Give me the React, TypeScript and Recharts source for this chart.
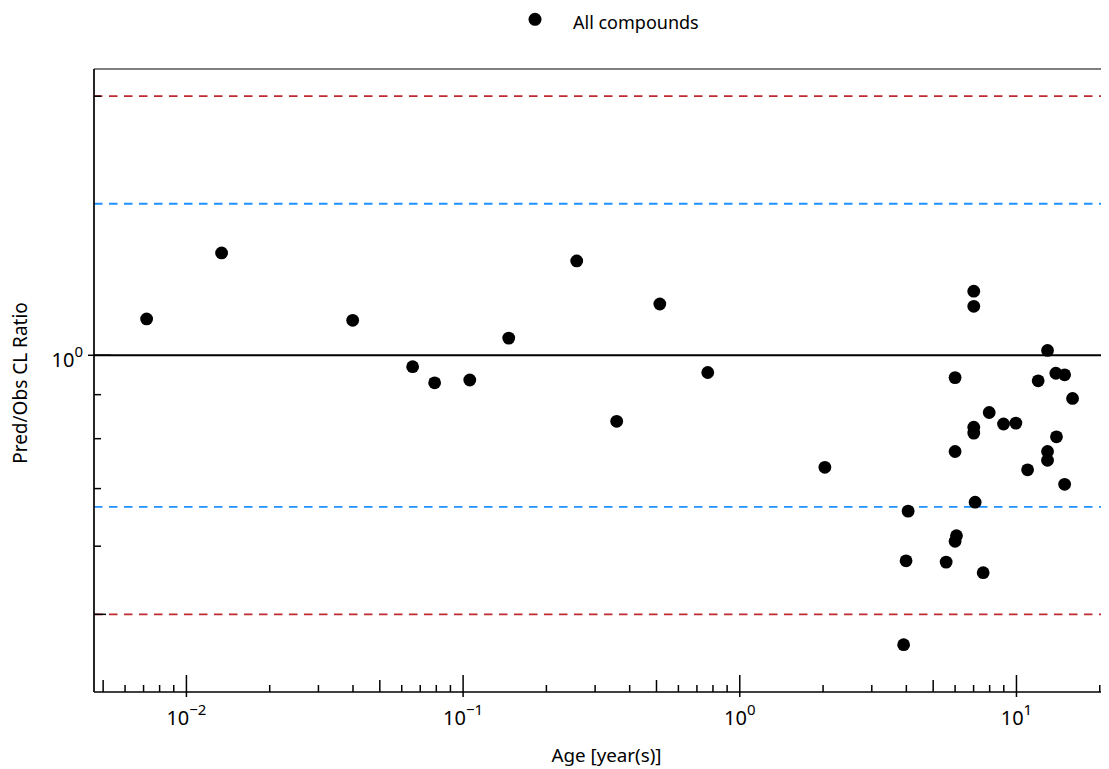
import { ScatterChart, Scatter, XAxis, YAxis, ReferenceLine, Legend, Label } from 'recharts';

// ages in years, predicted/observed clearance ratio
const ages = [
  0.00718, 0.0134, 0.0399, 0.0657, 0.0789, 0.1057, 0.1462, 0.2574, 0.359, 0.514, 0.766, 2.03,
  3.91, 3.99, 4.06, 5.57, 6.0, 6.07, 6.0, 6.0, 7.01, 7.01, 7.01, 7.01, 7.09, 7.58, 7.97, 8.98,
  9.95, 10.97, 11.98, 12.95, 12.95, 12.95, 13.88, 13.95, 14.93, 14.93, 15.95,
];
const ratios = [
  1.102, 1.315, 1.098, 0.97, 0.929, 0.936, 1.047, 1.287, 0.838, 1.147, 0.955, 0.741,
  0.461, 0.577, 0.659, 0.575, 0.608, 0.617, 0.773, 0.942, 1.187, 1.14, 0.825, 0.812, 0.675, 0.559, 0.858, 0.832,
  0.834, 0.736, 0.934, 1.013, 0.773, 0.755, 0.953, 0.804, 0.949, 0.708, 0.891,
];

const xTicks = [
  0.005, 0.006, 0.007, 0.008, 0.009,
  0.01, 0.02, 0.03, 0.04, 0.05, 0.06, 0.07, 0.08, 0.09,
  0.1, 0.2, 0.3, 0.4, 0.5, 0.6, 0.7, 0.8, 0.9,
  1, 2, 3, 4, 5, 6, 7, 8, 9,
  10, 20,
];
const yTicks = [0.5, 0.6, 0.7, 0.8, 0.9, 1, 2];

const foldLimits = [1.5, 2]; // blue = 1.5-fold, red = 2-fold

const X_DOMAIN = [0.004634, 21.6];
const Y_DOMAIN = [0.4062, 2.151];

const data = ages.map((age, i) => ({ age, ratio: ratios[i] }));

const RED = '#bf2a30';
const BLUE = '#1e90ff';
const FONT = '"Noto Sans", sans-serif';

const logInfo = (v: number) => {
  const lg = Math.log10(v);
  const major = Math.abs(lg - Math.round(lg)) < 1e-6;
  const mant = Math.round(v / Math.pow(10, Math.floor(lg + 1e-9)));
  return { major, mant, exp: Math.round(lg) };
};

const sup = (e: number) => (e < 0 ? '\u2212' + Math.abs(e) : String(e));

const XTick = (props: any) => {
  const { x, y, payload } = props;
  const { major, mant, exp } = logInfo(payload.value);
  const len = major ? 17 : mant === 5 ? 12 : 7;
  return (
    <g>
      <line x1={x} x2={x} y1={y - len} y2={major ? y + 5 : y} stroke="#000" strokeWidth={1.5} />
      {major && (
        <text x={x} y={y + 33} textAnchor="middle" fontSize={20} fill="#000">
          10<tspan dy={-10} fontSize={15}>{sup(exp)}</tspan>
        </text>
      )}
    </g>
  );
};

const YTick = (props: any) => {
  const { x, y, payload } = props;
  const { major, mant, exp } = logInfo(payload.value);
  const len = major ? 17 : mant === 5 ? 12 : 7;
  return (
    <g>
      <line x1={major ? x - 6 : x} x2={x + len} y1={y} y2={y} stroke="#000" strokeWidth={1.5} />
      {major && (
        <text x={x - 11} y={y + 11.5} textAnchor="end" fontSize={20} fill="#000">
          10<tspan dy={-9.5} fontSize={15}>{sup(exp)}</tspan>
        </text>
      )}
    </g>
  );
};

const LegendContent = (props: any) => {
  const item = props.payload && props.payload[0];
  return (
    <svg width={1101} height={61} style={{ display: 'block' }}>
      <circle cx={527} cy={11.3} r={6.5} fill="#000" />
      <text x={565} y={21.3} fontSize={18} fill="#000" fontFamily={FONT}>
        {item ? item.value : 'All compounds'}
      </text>
    </svg>
  );
};

const Dot = (props: any) => <circle cx={props.cx} cy={props.cy} r={6.4} fill="#000" />;

export default function App() {
  return (
    <div style={{ fontFamily: FONT }}>
      <ScatterChart width={1101} height={761} margin={{ top: 0, right: 0, bottom: 0, left: 0 }}>
        <Legend
          verticalAlign="top"
          align="left"
          wrapperStyle={{ top: 0, left: 0, width: 1101, margin: 0, padding: 0, lineHeight: 0 }}
          content={<LegendContent />}
        />
        <XAxis
          type="number"
          dataKey="age"
          scale="log"
          domain={X_DOMAIN}
          allowDataOverflow
          ticks={xTicks}
          interval={0}
          tickSize={0}
          tickMargin={0}
          tickLine={false}
          tick={<XTick />}
          height={77}
          axisLine={{ stroke: '#000', strokeWidth: 1.7 }}
        >
          <Label
            content={(p: any) => {
              const vb = p.viewBox;
              return (
                <text x={vb.x + vb.width / 2 + 5} y={754} textAnchor="middle" fontSize={18.8} fill="#000">
                  Age [year(s)]
                </text>
              );
            }}
          />
        </XAxis>
        <YAxis
          type="number"
          dataKey="ratio"
          scale="log"
          domain={Y_DOMAIN}
          allowDataOverflow
          ticks={yTicks}
          interval={0}
          tickSize={0}
          tickMargin={0}
          tickLine={false}
          tick={<YTick />}
          width={86}
          axisLine={{ stroke: '#000', strokeWidth: 1.7 }}
        >
          <Label
            content={() => (
              <text x={18.5} y={375} transform="rotate(-90 18.5 375)" textAnchor="middle" fontSize={19} fill="#000">
                Pred/Obs CL Ratio
              </text>
            )}
          />
        </YAxis>
        <ReferenceLine y={Y_DOMAIN[1]} stroke="#555" strokeWidth={1.5} />
        <ReferenceLine y={1} stroke="#000" strokeWidth={2} />
        {foldLimits.map((f) => {
          const c = f === 2 ? RED : BLUE;
          return [
            <ReferenceLine key={'u' + f} y={f} stroke={c} strokeWidth={1.8} strokeDasharray="8.5 6.5" />,
            <ReferenceLine key={'l' + f} y={1 / f} stroke={c} strokeWidth={1.8} strokeDasharray="8.5 6.5" />,
          ];
        })}
        <Scatter name="All compounds" data={data} fill="#000" shape={<Dot />} isAnimationActive={false} />
      </ScatterChart>
    </div>
  );
}
